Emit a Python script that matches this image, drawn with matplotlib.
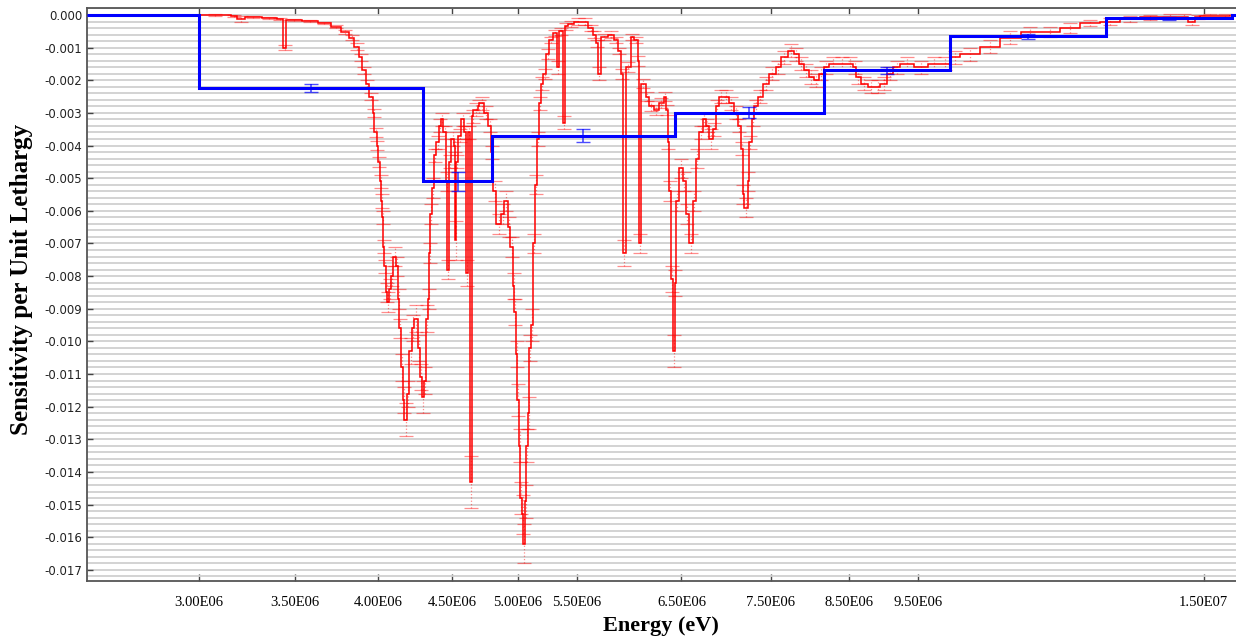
import numpy as np
import matplotlib.pyplot as plt
from matplotlib.ticker import MultipleLocator, NullLocator, FormatStrFormatter

plt.rcParams['axes.unicode_minus'] = False

# fine-group sensitivity (left group edges + last upper edge), values and 1-sigma errors
red_edges = [
    3.00e6, 3.16e6, 3.19e6, 3.23e6, 3.32e6, 3.40e6, 3.435e6, 3.45e6, 3.54e6, 3.63e6,
    3.71e6, 3.77e6, 3.82e6, 3.85e6, 3.88e6, 3.90e6, 3.92e6, 3.94e6, 3.965e6, 3.975e6,
    3.99e6, 4.00e6, 4.01e6, 4.019e6, 4.026e6, 4.033e6, 4.039e6, 4.052e6, 4.058e6, 4.071e6,
    4.084e6, 4.097e6, 4.117e6, 4.130e6, 4.137e6, 4.150e6, 4.163e6, 4.170e6, 4.190e6, 4.204e6,
    4.224e6, 4.238e6, 4.265e6, 4.279e6, 4.293e6, 4.306e6, 4.320e6, 4.333e6, 4.340e6, 4.347e6,
    4.361e6, 4.375e6, 4.389e6, 4.410e6, 4.425e6, 4.44e6, 4.461e6, 4.468e6, 4.482e6, 4.496e6,
    4.519e6, 4.526e6, 4.533e6, 4.548e6, 4.569e6, 4.591e6, 4.607e6, 4.621e6, 4.635e6, 4.650e6,
    4.657e6, 4.694e6, 4.702e6, 4.740e6, 4.770e6, 4.793e6, 4.808e6, 4.831e6, 4.870e6, 4.894e6,
    4.925e6, 4.941e6, 4.965e6, 4.973e6, 4.989e6, 4.997e6, 5.013e6, 5.021e6, 5.037e6, 5.045e6,
    5.061e6, 5.069e6, 5.085e6, 5.094e6, 5.110e6, 5.126e6, 5.143e6, 5.159e6, 5.176e6, 5.192e6,
    5.209e6, 5.234e6, 5.259e6, 5.293e6, 5.326e6, 5.343e6, 5.377e6, 5.394e6, 5.420e6, 5.473e6,
    5.535e6, 5.597e6, 5.642e6, 5.669e6, 5.687e6, 5.714e6, 5.778e6, 5.834e6, 5.872e6, 5.900e6,
    5.919e6, 5.947e6, 5.995e6, 6.024e6, 6.063e6, 6.073e6, 6.092e6, 6.141e6, 6.170e6, 6.220e6,
    6.270e6, 6.320e6, 6.340e6, 6.360e6, 6.370e6, 6.391e6, 6.411e6, 6.432e6, 6.442e6, 6.473e6,
    6.515e6, 6.546e6, 6.577e6, 6.619e6, 6.652e6, 6.684e6, 6.727e6, 6.759e6, 6.791e6, 6.835e6,
    6.868e6, 6.901e6, 6.957e6, 7.011e6, 7.068e6, 7.114e6, 7.148e6, 7.171e6, 7.183e6, 7.229e6,
    7.240e6, 7.275e6, 7.298e6, 7.345e6, 7.404e6, 7.475e6, 7.560e6, 7.620e6, 7.706e6, 7.780e6,
    7.842e6, 7.905e6, 7.969e6, 8.033e6, 8.097e6, 8.163e6, 8.229e6, 8.35e6, 8.46e6, 8.56e6,
    8.60e6, 8.66e6, 8.76e6, 8.86e6, 8.94e6, 9.03e6, 9.12e6, 9.23e6, 9.43e6, 9.65e6,
    9.84e6, 1.000e7, 1.016e7, 1.049e7, 1.083e7, 1.119e7, 1.155e7, 1.192e7, 1.231e7, 1.271e7,
    1.313e7, 1.355e7, 1.399e7, 1.445e7, 1.463e7, 1.48e7, 1.492e7, 1.540e7, 1.565e7,
]
red_vals = [
    0.0, -0.00003, -0.00012, -0.00005, -0.00008, -0.00012, -0.00100, -0.00015, -0.00018, -0.00025,
    -0.00036, -0.00052, -0.00070, -0.00097, -0.0013, -0.0017, -0.0021, -0.0025, -0.0030, -0.0036,
    -0.0040, -0.0045, -0.0051, -0.0057, -0.0062, -0.0071, -0.0077, -0.0085, -0.0088, -0.0084,
    -0.0080, -0.0074, -0.0077, -0.0087, -0.0096, -0.0108, -0.0118, -0.0124, -0.0116, -0.0103,
    -0.0096, -0.0093, -0.0102, -0.0111, -0.0117, -0.0112, -0.0093, -0.0087, -0.0073, -0.0061,
    -0.0053, -0.0043, -0.0039, -0.0034, -0.0032, -0.0036, -0.0051, -0.0078, -0.0045, -0.0038,
    -0.0040, -0.0069, -0.0045, -0.0037, -0.0032, -0.0036, -0.0079, -0.0036, -0.0143, -0.0031,
    -0.0029, -0.0028, -0.0027, -0.0030, -0.0034, -0.0042, -0.0054, -0.0064, -0.0061, -0.0057,
    -0.0065, -0.0071, -0.0083, -0.0091, -0.0104, -0.0118, -0.0132, -0.0148, -0.0153, -0.0162,
    -0.0149, -0.0132, -0.0122, -0.0102, -0.0095, -0.0070, -0.0052, -0.0038, -0.0027, -0.0021,
    -0.0018, -0.0012, -0.00077, -0.00055, -0.0016, -0.0005, -0.0033, -0.00035, -0.00028, -0.0002,
    -0.0002, -0.0004, -0.0006, -0.00087, -0.0018, -0.00067, -0.0006, -0.00077, -0.0011, -0.0018,
    -0.0073, -0.0016, -0.00067, -0.00077, -0.0014, -0.0070, -0.0021, -0.0025, -0.0028, -0.0029,
    -0.0027, -0.0025, -0.0029, -0.0039, -0.0054, -0.0081, -0.0103, -0.0082, -0.0057, -0.0047,
    -0.0051, -0.0061, -0.0070, -0.0057, -0.0044, -0.0036, -0.0032, -0.0034, -0.0038, -0.0035,
    -0.0028, -0.0025, -0.0025, -0.0027, -0.0030, -0.0034, -0.0041, -0.0055, -0.0059, -0.0051,
    -0.0039, -0.0032, -0.0028, -0.0025, -0.0021, -0.0018, -0.0016, -0.0013, -0.0011, -0.0012,
    -0.0015, -0.0017, -0.0019, -0.0020, -0.0018, -0.0016, -0.0015, -0.0015, -0.0015, -0.0016,
    -0.0019, -0.0021, -0.0022, -0.0022, -0.0021, -0.0018, -0.0016, -0.0015, -0.0016, -0.0015,
    -0.0015, -0.0013, -0.0012, -0.00097, -0.0007, -0.00052, -0.00052, -0.0004, -0.00025, -0.0002,
    -0.00013, -0.00007, -0.00005, -0.00005, -0.0002, -0.00005, -0.00003, -0.00002,
]
red_errs = [
    0.00002, 0.00002, 0.00008, 0.00003, 0.00003, 0.00003, 0.00008, 0.00003, 0.00004, 0.00004,
    0.00005, 0.00006, 0.00008, 0.0001, 0.0001, 0.0001, 0.0001, 0.00012, 0.00012, 0.00015,
    0.00015, 0.00015, 0.0002, 0.0002, 0.0002, 0.0002, 0.0002, 0.0003, 0.0003, 0.0003,
    0.0003, 0.0003, 0.0003, 0.0003, 0.0003, 0.0004, 0.0004, 0.0005, 0.0004, 0.0004,
    0.0004, 0.0004, 0.0004, 0.0004, 0.0005, 0.0004, 0.0004, 0.0003, 0.0003, 0.0003,
    0.0003, 0.0002, 0.0002, 0.0002, 0.0002, 0.0002, 0.0003, 0.0003, 0.0002, 0.0002,
    0.0002, 0.0006, 0.0002, 0.0002, 0.0002, 0.0002, 0.0004, 0.0002, 0.0008, 0.0002,
    0.0002, 0.0002, 0.0002, 0.0002, 0.0002, 0.0002, 0.0003, 0.0003, 0.0003, 0.0003,
    0.0003, 0.0003, 0.0004, 0.0004, 0.0004, 0.0005, 0.0005, 0.0005, 0.0006, 0.0006,
    0.0005, 0.0005, 0.0005, 0.0004, 0.0005, 0.0003, 0.0003, 0.0002, 0.0002, 0.0002,
    0.00015, 0.00015, 0.0001, 0.0001, 0.0002, 0.0001, 0.0002, 0.0001, 0.0001, 0.0001,
    0.0001, 0.0001, 0.0001, 0.0001, 0.0002, 0.0001, 0.0001, 0.0001, 0.0001, 0.00015,
    0.0004, 0.00015, 0.0001, 0.0001, 0.00015, 0.0003, 0.00015, 0.00015, 0.00015, 0.00015,
    0.00015, 0.00015, 0.00015, 0.0002, 0.0003, 0.0004, 0.0005, 0.0004, 0.0003, 0.0003,
    0.0003, 0.0003, 0.0003, 0.0003, 0.0003, 0.0002, 0.0002, 0.0002, 0.0003, 0.0002,
    0.0002, 0.0002, 0.0002, 0.0002, 0.0002, 0.0002, 0.0002, 0.0003, 0.0003, 0.0003,
    0.0002, 0.0002, 0.0002, 0.0002, 0.0002, 0.0002, 0.0002, 0.0002, 0.0002, 0.0002,
    0.0002, 0.0002, 0.0002, 0.0002, 0.0002, 0.0002, 0.0002, 0.0002, 0.0002, 0.0002,
    0.0002, 0.0002, 0.0002, 0.0002, 0.0002, 0.0002, 0.0002, 0.0002, 0.0002, 0.0002,
    0.0002, 0.0002, 0.0002, 0.0002, 0.0002, 0.00015, 0.00015, 0.00015, 0.0001, 0.0001,
    0.0001, 0.00008, 0.00008, 0.00008, 0.0001, 0.00006, 0.00005, 0.00004,
]

# broad-group sensitivity
blue_edges = [2.51e6, 3.0e6, 4.30e6, 4.80e6, 6.43e6, 8.17e6, 1.0e7, 1.284e7, 1.57e7, 1.58e7]
blue_vals = [0.0, -0.00225, -0.0051, -0.0037, -0.0030, -0.0017, -0.00065, -0.0001, 0.0]
blue_errs = [0.0, 0.00012, 0.00028, 0.0002, 0.00017, 0.0001, 0.00008, 0.00004, 0.0]

xtick_vals = [3.0e6, 3.5e6, 4.0e6, 4.5e6, 5.0e6, 5.5e6, 6.5e6, 7.5e6, 8.5e6, 9.5e6, 1.5e7]
xtick_labels = ['3.00E06', '3.50E06', '4.00E06', '4.50E06', '5.00E06', '5.50E06',
                '6.50E06', '7.50E06', '8.50E06', '9.50E06', '1.50E07']

fig = plt.figure(figsize=(12.36, 6.37), dpi=100)
ax = fig.add_axes([0.0706, 0.088, 0.9294, 0.899])
ax.set_xscale('log')

# fine groups in red
red_e = np.array(red_edges)
red_mid = np.sqrt(red_e[:-1] * red_e[1:])
ax.stairs(red_vals, red_edges, color='#ff0000', lw=1.1, zorder=3)
eb = ax.errorbar(red_mid, red_vals, yerr=red_errs, fmt='none', ecolor='#ff0000',
                 alpha=0.45, capsize=5, elinewidth=0.9, capthick=0.9, zorder=2)
eb[2][0].set_linestyle(':')

# broad groups in blue
blue_e = np.array(blue_edges)
blue_mid = np.sqrt(blue_e[:-1] * blue_e[1:])
ax.stairs(blue_vals, blue_edges, color='#0000ff', lw=2.2, zorder=4)
keep = np.array(blue_errs) > 0
eb2 = ax.errorbar(blue_mid[keep], np.array(blue_vals)[keep], yerr=np.array(blue_errs)[keep],
                  fmt='none', ecolor='#0000ff', alpha=0.7, capsize=5, elinewidth=1.2,
                  capthick=1.0, zorder=4)

ax.set_xlim(2.51e6, 1.58e7)
ax.set_ylim(-0.01734, 0.000205)

ax.set_xticks(xtick_vals)
ax.set_xticklabels(xtick_labels, fontfamily='Liberation Serif', fontsize=10.5)
ax.xaxis.set_minor_locator(NullLocator())
ax.tick_params(axis='x', which='major', direction='in', top=True, bottom=True,
               length=5, width=1, pad=11, color='#444444')

ax.yaxis.set_major_locator(MultipleLocator(0.001))
ax.yaxis.set_minor_locator(MultipleLocator(0.0002))
ax.yaxis.set_major_formatter(FormatStrFormatter('%.3f'))
ax.tick_params(axis='y', which='major', direction='in', length=4, width=1,
               pad=3.5, labelsize=8.5, color='#444444', labelcolor='#222222')
ax.tick_params(axis='y', which='minor', length=0)
ax.grid(True, axis='y', which='both', color='#d0d0d0', lw=1.3, zorder=0)
ax.set_axisbelow(True)

for side in ['left', 'bottom', 'top']:
    ax.spines[side].set_color('#555555')
    ax.spines[side].set_linewidth(1.3)
ax.spines['right'].set_visible(False)

fig.text(661 / 1236, 1 - 626 / 637, 'Energy (eV)', ha='center', va='center',
         fontfamily='Liberation Serif', fontweight='bold', fontsize=16)
fig.text(22 / 1236, 1 - 279 / 637, 'Sensitivity per Unit Lethargy', ha='center', va='center',
         rotation=90, fontfamily='Liberation Serif', fontweight='bold', fontsize=18)

fig.savefig('out.png', dpi=100)
